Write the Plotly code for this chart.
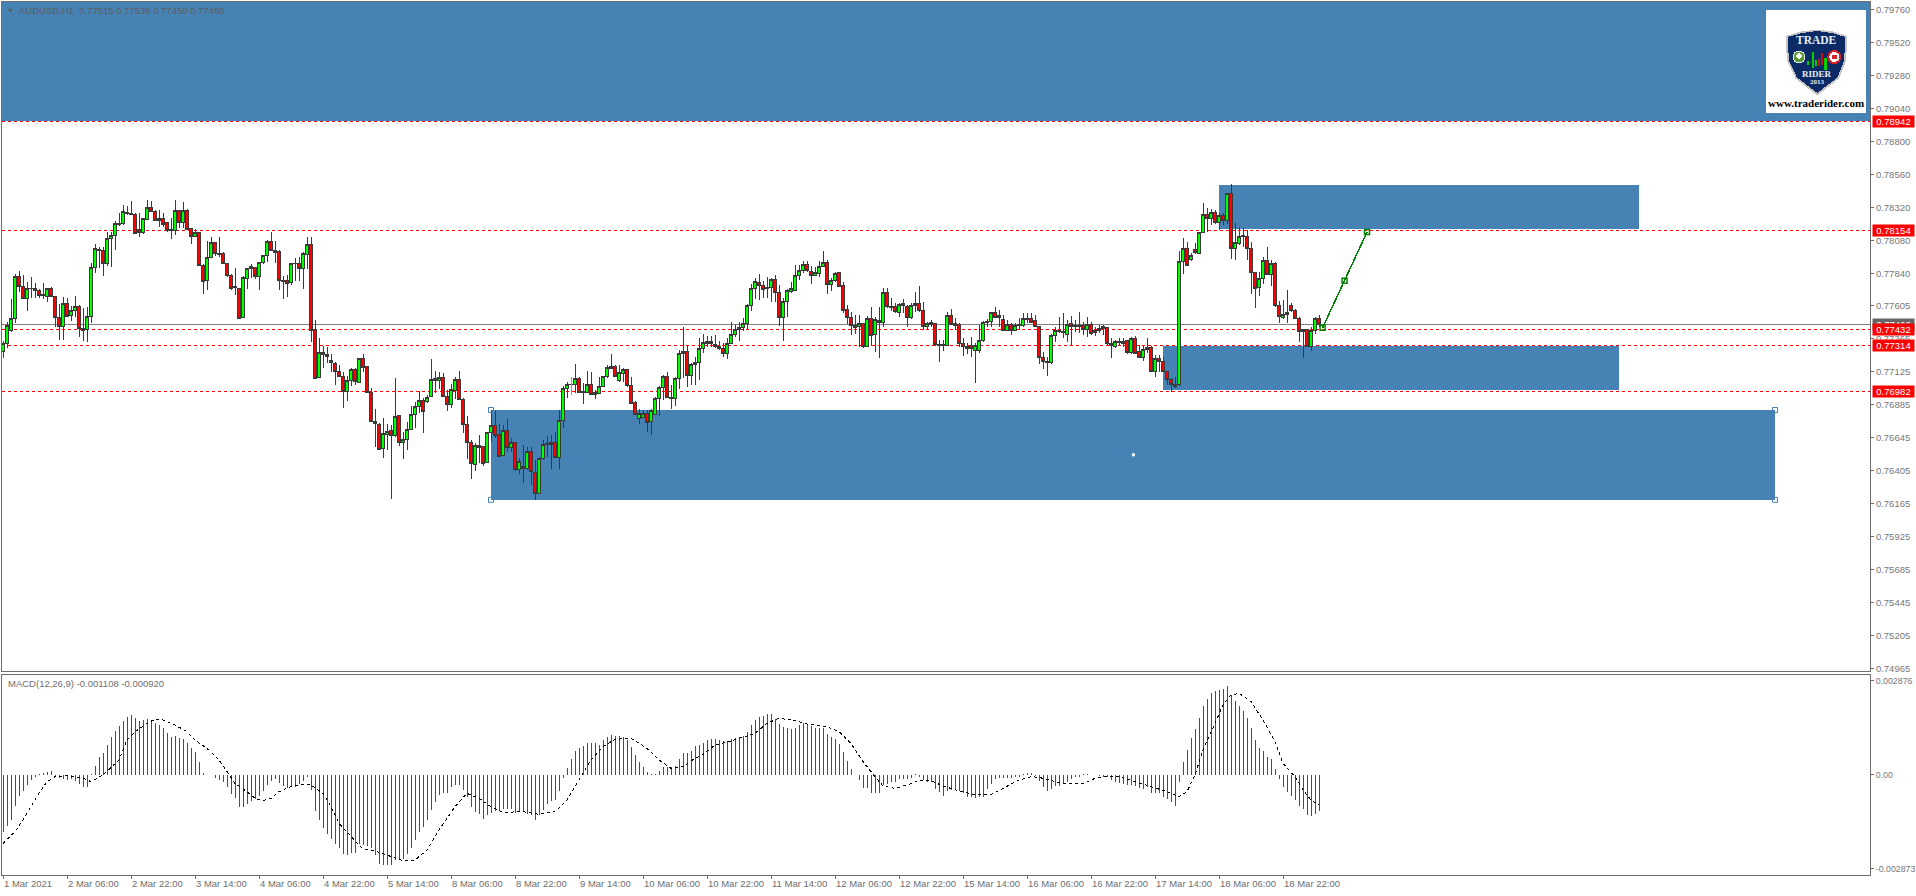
import plotly.graph_objects as go

# ---- price data, in points (1 point = 0.00001) ----
body_top = [
77331,77464,77512,77820,77820,77747,77733,77733,77731,77718,
77689,77726,77726,77672,77522,77621,77624,77566,77600,77602,
77440,77529,77883,78017,78014,78009,78094,78116,78203,78203,
78286,78283,78276,78271,78162,78235,78320,78320,78293,78240,
78240,78206,78160,78298,78298,78298,78300,78167,78140,78140,
77900,77956,78065,78067,77985,77987,77912,77827,77747,77733,
77806,77876,77886,77883,77920,77971,78075,78075,78007,78000,
77791,77789,77912,77915,77912,77985,78050,78050,77432,77265,
77265,77253,77209,77187,77127,77090,77061,77144,77144,77221,
77221,77161,76974,76763,76744,76676,76690,76700,76802,76807,
76632,76705,76814,76875,76916,76916,76938,77069,77074,77083,
77083,76947,76996,77069,77069,76926,76741,76610,76589,76589,
76577,76683,76734,76734,76671,76698,76698,76610,76610,76472,
76434,76545,76547,76395,76494,76596,76606,76610,76610,76768,
77003,77032,77035,77076,77078,76977,77032,77032,76974,77018,
77090,77158,77163,77166,77122,77141,77141,77025,76897,76821,
76821,76821,76841,76930,77013,77090,77090,76940,77076,77260,
77272,77272,77180,77195,77294,77338,77347,77347,77323,77309,
77294,77330,77396,77432,77449,77476,77609,77733,77781,77774,
77755,77740,77796,77796,77701,77636,77718,77726,77827,77864,
77905,77905,77854,77847,77893,77920,77920,77791,77840,77844,
77752,77578,77520,77461,77476,77476,77512,77512,77505,77498,
77701,77701,77602,77600,77612,77617,77602,77607,77617,77617,
77570,77476,77481,77476,77323,77323,77534,77534,77478,77466,
77330,77309,77313,77316,77352,77483,77488,77556,77556,77534,
77505,77469,77469,77461,77469,77512,77512,77515,77495,77454,
77226,77197,77389,77427,77427,77420,77469,77476,77461,77461,
77461,77469,77469,77427,77440,77452,77449,77330,77347,77347,
77347,77350,77367,77369,77275,77289,77304,77304,77217,77217,
77200,77127,77069,77032,77927,78021,78021,77966,78014,78138,
78269,78271,78281,78281,78259,78261,78421,78421,78065,78109,
78113,78109,78021,77849,77803,77934,77934,77912,77915,77607,
77537,77558,77609,77570,77512,77432,77432,77425,77512,77515]
body_bottom = [
77270,77328,77423,77512,77743,77655,77660,77726,77718,77677,
77677,77670,77672,77517,77452,77452,77529,77532,77568,77437,
77427,77432,77524,77881,78004,77910,77910,78094,78113,78198,
78201,78274,78266,78128,78135,78138,78232,78288,78223,78223,
78198,78155,78152,78152,78213,78213,78160,78106,78106,77895,
77779,77786,77954,77983,77978,77910,77823,77733,77735,77515,
77517,77801,77874,77815,77815,77917,77971,78004,77995,77789,
77779,77769,77772,77910,77874,77874,77980,77427,77076,77081,
77253,77234,77192,77124,77088,76977,76977,77059,77052,77047,
77158,76974,76761,76746,76560,76567,76666,76659,76659,76608,
76608,76630,76703,76812,76870,76834,76906,76943,77064,77059,
76943,76889,76889,76991,76921,76739,76608,76455,76453,76572,
76460,76463,76683,76659,76511,76516,76572,76572,76414,76414,
76419,76424,76397,76240,76240,76492,76594,76596,76504,76501,
76770,77001,77030,77028,76974,76974,76974,76960,76960,76967,
77016,77088,77151,77088,77059,77115,77023,76894,76812,76785,
76790,76758,76761,76814,76928,77008,76935,76928,76928,77073,
77255,77100,77100,77175,77195,77292,77330,77328,77306,77292,
77255,77255,77328,77394,77430,77447,77474,77604,77730,77750,
77721,77726,77735,77701,77517,77517,77634,77711,77718,77825,
77857,77864,77823,77827,77842,77888,77757,77757,77786,77747,
77573,77517,77459,77444,77452,77306,77311,77391,77394,77481,
77481,77597,77595,77561,77558,77604,77517,77517,77604,77568,
77452,77452,77471,77321,77318,77318,77318,77471,77464,77328,
77306,77292,77292,77282,77277,77350,77481,77486,77522,77517,
77423,77423,77423,77423,77461,77459,77505,77483,77454,77226,
77197,77195,77195,77386,77418,77410,77398,77452,77452,77452,
77435,77435,77401,77408,77427,77440,77328,77313,77311,77335,
77328,77263,77263,77260,77226,77226,77287,77124,77124,77197,
77127,77069,77032,77020,77030,77924,77895,77937,77990,77987,
78135,78237,78237,78208,78208,78223,78225,78019,78019,78060,
78106,78017,77844,77733,77735,77801,77830,77830,77604,77524,
77522,77544,77573,77510,77415,77415,77306,77306,77423,77466]
wick_high = [
77350,77488,77653,77835,77857,77827,77779,77811,77767,77726,
77767,77728,77740,77677,77617,77665,77658,77602,77675,77607,
77590,77592,77912,78050,78034,78034,78143,78143,78220,78276,
78337,78329,78368,78276,78276,78240,78370,78368,78300,78300,
78276,78208,78240,78373,78300,78361,78307,78172,78164,78143,
77905,78075,78106,78070,78104,77995,77917,77832,77876,77735,
77823,77881,77905,77888,77922,77975,78080,78143,78077,78009,
77820,77827,77917,77949,77961,77992,78101,78101,77498,77367,
77311,77306,77253,77197,77173,77124,77093,77149,77149,77226,
77253,77166,77008,76850,76749,76785,76744,76737,77078,76809,
76688,76761,76875,76906,76986,76930,76955,77217,77129,77124,
77117,76991,77032,77088,77129,76930,76802,76627,76603,76664,
76581,76688,76846,76838,76744,76737,76780,76640,76615,76494,
76591,76579,76574,76482,76506,76627,76657,76664,76688,76846,
77020,77052,77088,77180,77083,77040,77132,77122,76991,77088,
77093,77170,77253,77173,77173,77153,77144,77088,76914,76850,
76846,76846,76850,76943,77023,77100,77119,77028,77083,77282,
77449,77318,77185,77233,77367,77396,77384,77386,77391,77347,
77330,77367,77488,77464,77488,77512,77617,77762,77803,77835,
77786,77815,77803,77825,77755,77658,77723,77779,77900,77900,
77929,77932,77893,77883,77929,78002,77937,77803,77847,77852,
77779,77609,77561,77537,77537,77481,77529,77597,77524,77597,
77735,77730,77663,77621,77621,77651,77612,77621,77701,77747,
77629,77488,77500,77481,77355,77355,77561,77580,77512,77481,
77367,77330,77379,77330,77464,77493,77505,77561,77592,77573,
77537,77500,77476,77476,77512,77549,77549,77549,77537,77459,
77270,77233,77398,77452,77524,77549,77500,77529,77500,77561,
77488,77524,77488,77452,77464,77464,77452,77367,77355,77367,
77367,77355,77374,77384,77318,77318,77367,77311,77246,77246,
77233,77132,77076,77088,78004,78094,78070,77985,78058,78143,
78349,78312,78305,78300,78276,78276,78426,78489,78208,78179,
78167,78155,78070,77852,77852,77961,78031,77937,77920,77641,
77646,77718,77621,77578,77520,77437,77437,77452,77524,77539]
wick_low = [
77224,77294,77415,77481,77701,77653,77566,77663,77658,77663,
77651,77631,77665,77452,77355,77355,77524,77495,77524,77374,
77347,77343,77481,77844,77876,77823,77893,77888,78009,78186,
78191,78261,78264,78123,78106,78128,78227,78283,78218,78174,
78179,78143,78089,78121,78172,78172,78155,78053,78101,77893,
77692,77716,77949,77966,77961,77907,77815,77718,77682,77505,
77515,77726,77803,77796,77721,77907,77924,78000,77917,77718,
77655,77670,77755,77784,77784,77728,77869,77343,77071,77076,
77149,77185,77124,77027,77083,76863,76914,77023,77027,77040,
77124,76967,76756,76579,76555,76499,76555,76201,76652,76584,
76492,76555,76700,76712,76826,76681,76899,76938,76967,76996,
76938,76841,76858,76923,76916,76681,76489,76346,76404,76458,
76438,76458,76615,76640,76506,76511,76543,76543,76404,76378,
76312,76409,76300,76191,76235,76482,76501,76414,76494,76414,
76717,76935,76955,76967,76967,76889,76972,76955,76926,76962,
77011,77076,77141,77083,77052,77052,77015,76887,76807,76744,
76785,76688,76664,76809,76802,76918,76930,76850,76875,76998,
77076,77015,77027,77027,77064,77258,77306,77306,77294,77282,
77234,77217,77323,77379,77347,77423,77432,77566,77651,77646,
77663,77658,77634,77634,77459,77350,77524,77694,77713,77791,
77840,77852,77762,77823,77815,77883,77692,77714,77779,77738,
77554,77469,77391,77396,77306,77294,77301,77311,77270,77226,
77452,77590,77568,77554,77524,77554,77452,77505,77561,77561,
77427,77427,77452,77311,77197,77277,77311,77464,77427,77301,
77238,77253,77234,77044,77258,77343,77452,77452,77517,77452,
77418,77418,77394,77418,77427,77452,77476,77476,77447,77178,
77146,77095,77180,77343,77408,77367,77343,77318,77415,77403,
77391,77379,77394,77384,77403,77391,77318,77226,77294,77311,
77306,77253,77253,77253,77221,77204,77263,77120,77088,77124,
77122,77027,76979,77003,77023,77835,77893,77932,77980,77980,
78130,78143,78191,78198,78155,78191,78196,77941,77937,78046,
78029,77937,77689,77590,77675,77762,77825,77747,77597,77481,
77505,77476,77561,77505,77340,77226,77301,77275,77398,77450]
direction = (
"GGGGRRGGRR" "RGRRRGRGGR" "RGGGGRGGGG" "GRRRRGGRRG" "RRGGRGRRGR"
"RGGRGRRRRR" "GGGRGGGRRR" "RRGGRGGRRG" "RRRRRRGGRG" "RRRRRGGRGR"
"GGGGGRGGRG" "RRGGRRRRGR" "RGGRRGRGRG" "RGRRGGGGRG" "GGGGRRGRRG"
"GGRRGGRRRG" "GRGGGGRRGG" "GRGGGGGRRR" "RGGGGGGGGR" "RRGRRGGGGG"
"GRRGGGRGGR" "RRRRGRGRGG" "GRRRGGRGGR" "RGGRRRGRRR" "RRRGGGGGRR"
"RGRGGGRRRR" "RRGGRRGRRR" "RGRRGGRRGG" "GRGRRGGRGR" "RRRGGGRGRG"
"GRGRGRGRGG" "GRRRGGRGRR" "GGRRRRRGGR")
doji_bar = [142,142]
doji_range = [77088,76955]

# ---- MACD, in millionths ----
macd_hist = [
-1733,-1550,-1376,-938,-632,-479,-306,-153,-31,10,
31,102,122,-10,-102,-133,-153,-133,-173,-275,
-367,-367,10,275,551,673,918,1152,1346,1499,
1641,1784,1835,1733,1652,1672,1703,1692,1590,1519,
1437,1285,1152,1183,1121,1101,969,816,714,408,
71,0,0,-102,-153,-204,-357,-581,-703,-979,
-979,-897,-785,-744,-642,-500,-306,-194,-122,-234,
-336,-408,-367,-357,-275,-184,-51,-459,-1091,-1376,
-1631,-1805,-1957,-2110,-2243,-2426,-2447,-2396,-2375,-2110,
-2141,-2172,-2243,-2447,-2722,-2742,-2753,-2742,-2600,-2600,
-2579,-2416,-2243,-1988,-1733,-1601,-1376,-1070,-816,-612,
-561,-540,-377,-306,-306,-459,-663,-969,-1121,-1193,
-1346,-1223,-1152,-1091,-1070,-1040,-1040,-1040,-1152,-1121,
-1091,-1193,-1223,-1376,-1223,-1070,-887,-795,-765,-479,
-102,224,489,734,836,887,989,979,989,918,
1070,1152,1223,1193,1193,1152,1070,846,612,408,
234,102,20,20,122,234,255,234,285,489,
663,683,744,887,918,979,1070,1101,1101,1070,
1040,1020,1091,1121,1172,1193,1325,1529,1682,1784,
1815,1855,1866,1703,1560,1458,1437,1407,1437,1529,
1580,1560,1499,1448,1427,1427,1254,1152,1111,948,
703,428,184,0,-153,-408,-408,-540,-540,-540,
-306,-275,-224,-224,-122,-122,-133,-82,20,-51,
-153,-204,-204,-438,-510,-642,-489,-469,-438,-489,
-540,-663,-683,-714,-683,-683,-428,-285,-133,-82,
-82,-82,-82,-71,-71,10,31,31,-10,-173,
-377,-479,-438,-347,-336,-255,-204,-122,-71,-31,
10,10,0,0,-10,-31,-51,-153,-204,-234,
-275,-306,-306,-336,-408,-438,-357,-540,-540,-561,
-663,-744,-826,-938,-214,398,765,1132,1407,1733,
2110,2324,2518,2569,2600,2620,2722,2447,2273,2121,
1968,1754,1437,1070,836,734,561,500,184,-122,
-367,-510,-642,-765,-948,-1040,-1223,-1244,-1193,-1108]
signal_bar = [0,3,5,7,9,11,13,16,20,22,25,29,31,33,36,38,40,43,46,48,51,54,56,58,61,63,65,67,69,72,75,77,80,82,84,87,90,93,97,100,103,106,109,113,116,119,122,125,130,134,138,141,144,147,150,153,157,161,164,167,170,173,
175,178,182,185,188,191,194,198,201,206,209,212,215,218,220,223,226,229,232,235,239,243,247,250,254,257,259,263,266,270,273,276,279,283,287,291,294,296,298,300,303,305,307,309,312,315,318,320,323,325,327,329]
signal_value = [-2090,-1733,-1376,-969,-561,-204,-51,-20,-102,-204,0,459,1070,1325,1580,1703,1682,1529,1325,1070,816,459,102,-255,-510,-714,-785,-714,-510,-357,-275,-306,-561,-969,-1478,-1886,-2273,-2324,-2498,-2620,-2600,-2294,-1682,-969,-561,-714,-969,-1142,-1121,-1203,-1121,-765,-153,459,867,1091,1121,816,459,204,255,510,
632,918,1040,1152,1274,1580,1733,1662,1560,1478,1325,969,408,-51,-336,-408,-306,-173,-173,-336,-489,-602,-591,-408,-153,-51,-71,-204,-275,-275,-102,-41,-51,-204,-357,-510,-663,-510,0,765,1580,2141,2447,2498,2243,1682,1020,357,-51,-459,-765,-920]

# ---- axes text ----
date_labels = ["1 Mar 2021","2 Mar 06:00","2 Mar 22:00","3 Mar 14:00","4 Mar 06:00","4 Mar 22:00","5 Mar 14:00",
               "8 Mar 06:00","8 Mar 22:00","9 Mar 14:00","10 Mar 06:00","10 Mar 22:00","11 Mar 14:00","12 Mar 06:00",
               "12 Mar 22:00","15 Mar 14:00","16 Mar 06:00","16 Mar 22:00","17 Mar 14:00","18 Mar 06:00","18 Mar 22:00"]
date_bars = [16*k for k in range(len(date_labels))]
price_ticks = [0.79760,0.79520,0.79280,0.79040,0.78800,0.78560,0.78320,0.78080,0.77840,0.77605,0.77365,0.77125,
               0.76885,0.76645,0.76405,0.76165,0.75925,0.75685,0.75445,0.75205,0.74965]
macd_ticks = [0.002876,0.0,-0.002873]
macd_tick_text = ["0.002876","0.00","-0.002873"]

# ---- drawn objects ----
level_prices = [0.78942,0.78154,0.77432,0.77314,0.76982]
bid_price = 0.77466
zones = [(-0.25,466.75,0.78950,0.79900),(304,409,0.78160,0.78482),(290,404,0.76988,0.77309),(122,443,0.76193,0.76846)]
handle_bars = [122,122,443,443]
handle_prices = [0.76846,0.76193,0.76846,0.76193]
centre_bar = [282.6]
centre_price = [0.76520]
path_bars = [329.9,335.4,341]
path_prices = [0.77444,0.77786,0.78140]

W,H = 1916,896
L,R,T,B = 2,1870,2,875
BLUE="#4682B4"; GREY="#808080"; TXT="#777777"; FRAME="#6E6E6E"
def px(x): return (x-L)/(R-L)
def py(y): return (B-y)/(B-T)

opens=[];closes=[]
for t,b,d in zip(body_top,body_bottom,direction):
    opens.append((b if d=="G" else t)/1e5); closes.append((t if d=="G" else b)/1e5)
bars=list(range(len(body_top)))

fig=go.Figure()
fig.add_trace(go.Candlestick(x=bars,open=opens,high=[v/1e5 for v in wick_high],low=[v/1e5 for v in wick_low],close=closes,
    whiskerwidth=0,hoverinfo="skip",
    increasing=dict(fillcolor="#00FF00",line=dict(color="#3A3A3A",width=1)),
    decreasing=dict(fillcolor="#FF0000",line=dict(color="#3A3A3A",width=1)),xaxis="x",yaxis="y"))
fig.add_trace(go.Scatter(x=doji_bar,y=[v/1e5 for v in doji_range],mode="lines",line=dict(color="#00FF00",width=1),hoverinfo="skip",xaxis="x",yaxis="y"))
fig.add_trace(go.Scatter(x=path_bars,y=path_prices,mode="lines+markers",line=dict(color="#008000",width=1.5),
    marker=dict(symbol="square-open",size=5,color="#008000",line=dict(width=1.5)),hoverinfo="skip",xaxis="x",yaxis="y"))
fig.add_trace(go.Scatter(x=handle_bars,y=handle_prices,mode="markers",
    marker=dict(symbol="square-open",size=5,color=BLUE,line=dict(width=1)),hoverinfo="skip",xaxis="x",yaxis="y"))
fig.add_trace(go.Scatter(x=centre_bar,y=centre_price,mode="markers",
    marker=dict(symbol="square",size=3,color="white"),hoverinfo="skip",xaxis="x",yaxis="y"))
fig.add_trace(go.Bar(x=bars,y=[v/1e6 for v in macd_hist],width=0.2,offset=0.025,marker=dict(color="#FF0000",line=dict(width=0)),hoverinfo="skip",xaxis="x2",yaxis="y2"))
fig.add_trace(go.Scatter(x=signal_bar,y=[v/1e6 for v in signal_value],mode="lines",line=dict(color="black",width=1,dash="3px,3px"),hoverinfo="skip",xaxis="x2",yaxis="y2"))

shapes=[]
for x0,x1,y0,y1 in zones:
    shapes.append(dict(type="rect",xref="x",yref="y",x0=x0,x1=x1,y0=y0,y1=y1,fillcolor=BLUE,line=dict(width=0),layer="below"))
shapes.append(dict(type="line",xref="paper",yref="y",x0=0,x1=1,y0=bid_price,y1=bid_price,line=dict(color=GREY,width=1),layer="below"))
for p in level_prices:
    shapes.append(dict(type="line",xref="paper",yref="y",x0=0,x1=1,y0=p,y1=p,line=dict(color="#FF0000",width=1,dash="3px,3px"),layer="below"))

def pathshape(pts,fill,lw=0,lc=None):
    d="M "+" L ".join(f"{px(a):.5f},{py(b):.5f}" for a,b in pts)+" Z"
    return dict(type="path",xref="paper",yref="paper",path=d,fillcolor=fill,line=dict(width=lw,color=lc or fill),layer="above")
def rectshape(x0,y0,x1,y1,fill):
    return dict(type="rect",xref="paper",yref="paper",x0=px(x0),x1=px(x1),y0=py(y0),y1=py(y1),fillcolor=fill,line=dict(width=0),layer="above")
def circ(cx,cy,r,fill,lc="#FFFFFF",lw=1):
    return dict(type="circle",xref="paper",yref="paper",x0=px(cx-r),x1=px(cx+r),y0=py(cy-r),y1=py(cy+r),fillcolor=fill,line=dict(width=lw,color=lc),layer="above")
# logo badge
shapes.append(rectshape(1766,10,1866,113,"white"))
shape_out=[(1785.5,36),(1801,31.5),(1817.3,29.5),(1833,31.5),(1847.5,36),(1846,61),(1839,78.5),(1817.3,95.5),(1795.5,78.5),(1787,61)]
shape_in=[(1787.5,37),(1802,33),(1817.3,31),(1832,33),(1845.5,37),(1844,61),(1837.5,77.5),(1817.3,93),(1797,77.5),(1789,61)]
shapes.append(pathshape(shape_out,"#C4C4C4"))
shapes.append(pathshape(shape_in,"#0B2A66"))
shapes.append(circ(1799,57,6,"#5A9A35","#E8E8E8"))
shapes.append(circ(1799,56,2.2,"#FFFFFF","#FFFFFF"))
shapes.append(circ(1834.3,57,6,"#FFFFFF","#D8232A",2))
shapes.append(rectshape(1831.5,55,1837,59,"#D8232A"))
for x0,y0,x1,y1,c in [(1811.5,52,1814,68,"#00D000"),(1815,60,1817,66,"#00D000"),(1818,59,1820,66,"#D01010"),(1821,53,1823,65,"#D01010"),(1824,58,1826.5,70,"#00D000"),(1807,61,1809,65,"#00D000")]:
    shapes.append(rectshape(x0,y0,x1,y1,c))

ann=[]
def text(x,y,s,size=9.5,color=TXT,anchor="left",family="Liberation Sans"):
    ann.append(dict(xref="paper",yref="paper",x=px(x),y=py(y),text=s,showarrow=False,xanchor=anchor,yanchor="middle",
                    font=dict(family=family,size=size,color=color),borderpad=0))
for b,s in zip(date_bars,date_labels):
    text(3+4*b,883,s,color="#6E6E6E")
text(6,11,"▼",color="#5F5F5F",size=7)
text(18,11,"AUDUSD,H1  0.77515 0.77539 0.77450 0.77466",color="#5F5F5F",size=9.5)
text(7,683.5,"MACD(12,26,9) -0.001108 -0.000920",color="#6E6E6E")
def box(price,fill):
    y=9.3+(0.7976-price)*13750
    ann.append(dict(xref="paper",yref="paper",x=px(1872),y=py(y),text=f"{price:.5f}",showarrow=False,xanchor="left",yanchor="middle",
                    width=41,height=11,bgcolor=fill,align="center",borderpad=0,font=dict(family="Liberation Sans",size=9.5,color="white")))
box(bid_price,"#666666")
for p in level_prices: box(p,"#FF0000")
text(1816,40.5,"<b>TRADE</b>",size=11.5,color="#E8EEF4",anchor="center",family="Liberation Serif")
text(1817,74,"<b>RIDER</b>",size=9,color="#E8EEF4",anchor="center",family="Liberation Serif")
text(1817,82,"<b>2013</b>",size=7,color="#E8EEF4",anchor="center",family="Liberation Serif")
text(1816,103,"<b>www.traderider.com</b>",size=11,color="black",anchor="center",family="Liberation Serif")

fr=dict(showline=True,linecolor=FRAME,linewidth=1,mirror=True,showgrid=False,zeroline=False)
fig.update_layout(
    width=W,height=H,margin=dict(l=L,r=W-R,t=T,b=H-B,autoexpand=False),paper_bgcolor="white",plot_bgcolor="white",
    showlegend=False,boxgap=0.25,boxmode="overlay",bargap=0,shapes=shapes,annotations=ann,
    xaxis=dict(domain=[0,1],range=[-0.25,466.75],anchor="y",showticklabels=False,ticks="",rangeslider=dict(visible=False),**fr),
    xaxis2=dict(domain=[0,1],range=[-0.25,466.75],anchor="y2",tickvals=date_bars,showticklabels=False,ticks="outside",ticklen=3,tickcolor=FRAME,**fr),
    yaxis=dict(domain=[0.23368,1],range=[0.74948,0.79813],side="right",anchor="x",tickvals=price_ticks,
               ticktext=[f"{v:.5f}" for v in price_ticks],ticks="outside",ticklen=3,tickcolor=FRAME,
               tickfont=dict(family="Liberation Sans",size=9.5,color=TXT),**fr),
    yaxis2=dict(domain=[0,0.2291],range=[-0.003058,0.003058],side="right",anchor="x2",tickvals=macd_ticks,ticktext=macd_tick_text,
                ticks="outside",ticklen=3,tickcolor=FRAME,tickfont=dict(family="Liberation Sans",size=8.8,color=TXT),**fr),
)
assert len(body_top)==len(body_bottom)==len(wick_high)==len(wick_low)==len(direction)==len(macd_hist)==330
assert len(signal_bar)==len(signal_value)
css=".shapelayer path,.boxlayer path,.js-line{shape-rendering:crispEdges}"
fig.write_html("out.html",
    post_script="document.body.style.margin='0';var s=document.createElement('style');s.textContent='"+css+"';document.head.appendChild(s);",
    config=dict(displayModeBar=False))
